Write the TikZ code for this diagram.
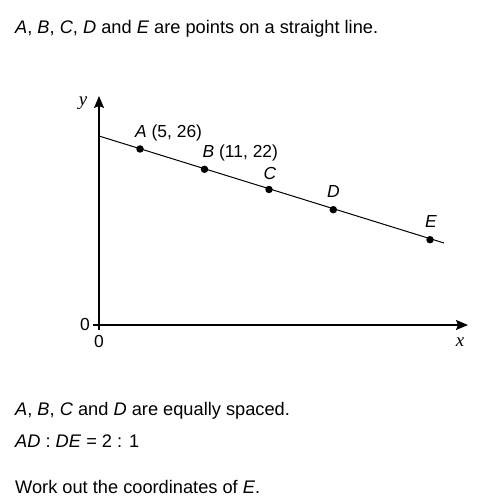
\documentclass[tikz,border=0pt]{standalone}
\usepackage{fontspec}
\setmainfont{Liberation Sans}
\newfontfamily\axisfont{Liberation Serif}
\usetikzlibrary{arrows.meta, positioning}
\tikzstyle{txt} = [anchor=base west, inner sep=0pt, font=\fontsize{18.3}{22}\selectfont]
\tikzstyle{lbl} = [anchor=base, inner sep=0pt, font=\fontsize{17.5}{21}\selectfont]
\tikzstyle{axlbl} = [anchor=base, inner sep=0pt, font=\axisfont\itshape\fontsize{19}{22}\selectfont]
\tikzstyle{pt} = [circle, fill=black, inner sep=0pt, minimum size=7.5bp]
\tikzstyle{axis} = [line width=1.3bp, -{Stealth[length=12bp, width=10bp, inset=2bp]}]

\begin{document}
\begin{tikzpicture}[x=1bp, y=-1bp]
\useasboundingbox (0,0) rectangle (494,503);

\node (intro) [txt] at (15,34) {\textit{A}, \textit{B}, \textit{C}, \textit{D} and \textit{E} are points on a straight line.};

% axes
\coordinate (origin) at (99,325);
\coordinate (ystart) at (99,330);
\coordinate (ytop) at (99,96);
\coordinate (xstart) at (93,325);
\coordinate (xtip) at (468,325);
\draw [axis] (ystart) -- (ytop);
\draw [axis] (xstart) -- (xtip);
\node (ylbl) [axlbl] at (83,106) {y};
\node (xlbl) [axlbl] at (460,346.5) {x};
\node (zeroy) [lbl] at (85,330.5) {0};
\node (zerox) [lbl] at (99,347) {0};

% the straight line and its points
\coordinate (lstart) at (99,136);
\coordinate (lend) at (444,243);
\draw [line width=1bp] (lstart) -- (lend);
\node (A) [pt] at (140,149) {};
\node (B) [pt] at (204.5,169.3) {};
\node (C) [pt] at (269,189.5) {};
\node (D) [pt] at (333.3,209.7) {};
\node (E) [pt] at (430,239.7) {};

\node (Alab) [lbl, anchor=base west] at (135,137.3) {\textit{A} (5, 26)};
\node (Blab) [lbl, anchor=base west] at (202.5,157.3) {\textit{B} (11, 22)};
\node (Clab) [lbl] at (270,180) {\textit{C}};
\node (Dlab) [lbl] at (333.5,197.3) {\textit{D}};
\node (Elab) [lbl] at (431,227.3) {\textit{E}};

\node (spaced) [txt] at (15,415.7) {\textit{A}, \textit{B}, \textit{C} and \textit{D} are equally spaced.};
\node (ratio) [txt] at (15,447.7) {\textit{AD} : \textit{DE} = 2 : 1};
\node (task) [txt] at (15,493.3) {Work out the coordinates of \textit{E}.};

\end{tikzpicture}
\end{document}
